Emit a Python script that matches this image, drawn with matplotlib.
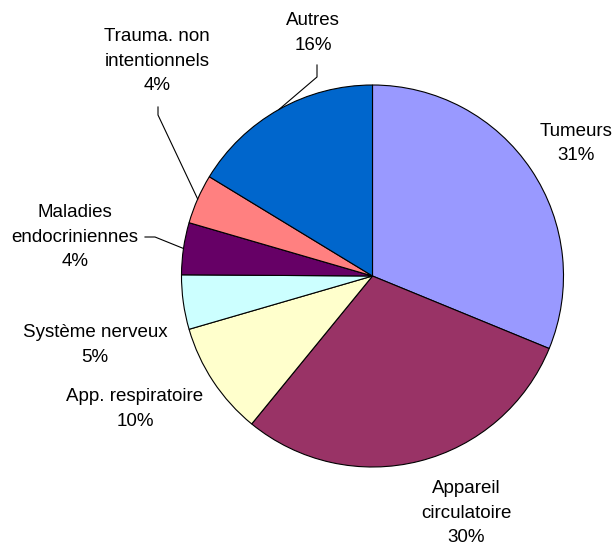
import numpy as np
import matplotlib
matplotlib.use("Agg")
import matplotlib.pyplot as plt

categories = ["Tumeurs", "Appareil\ncirculatoire", "App. respiratoire", "Système nerveux",
              "Maladies\nendocriniennes", "Trauma. non\nintentionnels", "Autres"]
values = [31.2, 29.7, 9.6, 4.6, 4.4, 4.2, 16.3]
colors = ["#9999FF", "#993366", "#FFFFCC", "#CCFFFF", "#660066", "#FF8080", "#0066CC"]

# label anchor positions in pixel space (x, y from top)
label_pos = [(576, 143.5), (466, 513), (135, 409), (95, 345), (75, 237), (157, 61), (313, 33)]
# leader line starts (pixel), None = no leader
leader_start = [None, None, None, None, [(145, 237), (155, 237)],
                [(158, 107), (158, 115)], [(317, 65), (317, 77)]]

plt.rcParams['font.family'] = ['Liberation Sans', 'DejaVu Sans']
W, H = 613, 548
fig = plt.figure(figsize=(W / 100, H / 100), dpi=100)
ax = fig.add_axes([0, 0, 1, 1])
ax.set_xlim(0, W)
ax.set_ylim(0, H)
ax.set_aspect('equal')
ax.axis('off')

cx, cy, r = 372.5, H - 276, 191
wedges, _ = ax.pie(values, colors=colors, startangle=90, counterclock=False,
                   center=(cx, cy), radius=r, frame=True,
                   wedgeprops=dict(edgecolor='black', linewidth=0.8))
ax.set_xlim(0, W)
ax.set_ylim(0, H)
ax.axis('off')

total = sum(values)
for w, cat, v, (lx, ly), ls in zip(wedges, categories, values, label_pos, leader_start):
    txt = f"{cat}\n{round(v / total * 100):d}%"
    ax.text(lx, H - ly, txt, ha='center', va='center', fontsize=13.5,
            linespacing=1.55, color='black')
    if ls is not None:
        mid = np.deg2rad((w.theta1 + w.theta2) / 2)
        ex, ey = cx + r * np.cos(mid), cy + r * np.sin(mid)
        xs = [p[0] for p in ls] + [ex]
        ys = [H - p[1] for p in ls] + [ey]
        ax.plot(xs, ys, color='black', linewidth=0.8)

fig.savefig("out.png", dpi=100, facecolor='white')
